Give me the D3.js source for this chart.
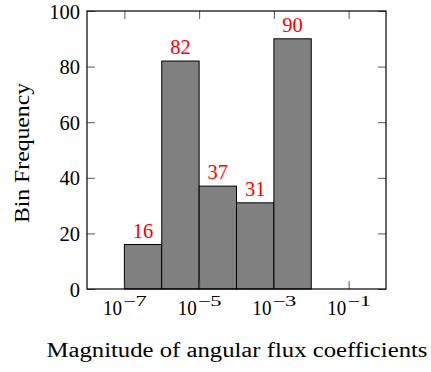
<!DOCTYPE html>
<html>
<head>
<meta charset="utf-8">
<script src="https://cdn.jsdelivr.net/npm/d3@7"></script>
<style>
  html, body { margin: 0; padding: 0; background: #fff; }
  svg { display: block; }
  text { font-family: "Liberation Serif", "Times New Roman", serif; }
</style>
</head>
<body>
<svg id="chart" width="431" height="372"></svg>
<script>
// Histogram bins (decade edges) and their counts
const binEdges = [1e-7, 1e-6, 1e-5, 1e-4, 1e-3, 1e-2];
const counts = [16, 82, 37, 31, 90];
const xTickValues = [1e-7, 1e-5, 1e-3, 1e-1];
const yTickValues = [0, 20, 40, 60, 80, 100];
const xTitle = "Magnitude of angular flux coefficients";
const yTitle = "Bin Frequency";

const bins = counts.map((c, i) => ({ x0: binEdges[i], x1: binEdges[i + 1], count: c }));

const svg = d3.select("#chart");
const plotLeft = 87, plotRight = 386, plotTop = 11, plotBottom = 289;
const fontSize = 20.5;

const x = d3.scaleLog().domain([1e-8, 1]).range([plotLeft, plotRight]);
const y = d3.scaleLinear().domain([0, 100]).range([plotBottom, plotTop]);

// bars
svg.append("g").selectAll("rect")
  .data(bins)
  .join("rect")
  .attr("x", d => x(d.x0))
  .attr("y", d => y(d.count))
  .attr("width", d => x(d.x1) - x(d.x0))
  .attr("height", d => y(0) - y(d.count))
  .attr("fill", "#808080")
  .attr("stroke", "#000")
  .attr("stroke-width", 1);

// value labels above bars
svg.append("g").selectAll("text")
  .data(bins)
  .join("text")
  .attr("x", d => (x(d.x0) + x(d.x1)) / 2)
  .attr("y", d => y(d.count) - 7)
  .attr("text-anchor", "middle")
  .attr("font-size", fontSize)
  .attr("fill", "#ff0000")
  .text(d => d.count);

// inward ticks on all four sides
const tickLen = 8;
function styleTicks(g) {
  g.select(".domain").remove();
  g.selectAll(".tick line").attr("stroke", "#444").attr("stroke-width", 0.9);
  g.selectAll(".tick text").remove();
}
svg.append("g").attr("transform", `translate(0,${plotBottom})`)
  .call(d3.axisBottom(x).tickValues(xTickValues).tickSize(-tickLen).tickFormat(""))
  .call(styleTicks);
svg.append("g").attr("transform", `translate(0,${plotTop})`)
  .call(d3.axisTop(x).tickValues(xTickValues).tickSize(-tickLen).tickFormat(""))
  .call(styleTicks);
svg.append("g").attr("transform", `translate(${plotLeft},0)`)
  .call(d3.axisLeft(y).tickValues(yTickValues).tickSize(-tickLen).tickFormat(""))
  .call(styleTicks);
svg.append("g").attr("transform", `translate(${plotRight},0)`)
  .call(d3.axisRight(y).tickValues(yTickValues).tickSize(-tickLen).tickFormat(""))
  .call(styleTicks);

// frame
svg.append("rect")
  .attr("x", plotLeft).attr("y", plotTop)
  .attr("width", plotRight - plotLeft).attr("height", plotBottom - plotTop)
  .attr("fill", "none").attr("stroke", "#000").attr("stroke-width", 1.2);

// y tick labels
svg.append("g").selectAll("text")
  .data(yTickValues)
  .join("text")
  .attr("x", plotLeft - 7)
  .attr("y", d => y(d) + 7.5)
  .attr("text-anchor", "end")
  .attr("font-size", fontSize)
  .text(d => d);

// x tick labels as powers of ten: base and raised exponent
const xl = svg.append("g").selectAll("g")
  .data(xTickValues)
  .join("g")
  .attr("transform", d => `translate(${x(d)},${plotBottom + 26})`);
xl.append("text")
  .attr("x", -21.5)
  .attr("font-size", fontSize)
  .attr("textLength", 19)
  .attr("lengthAdjust", "spacingAndGlyphs")
  .text("10");
xl.append("text")
  .attr("x", -1.5)
  .attr("y", -9)
  .attr("font-size", 14.5)
  .attr("textLength", 24)
  .attr("lengthAdjust", "spacingAndGlyphs")
  .text(d => "\u2212" + Math.round(-Math.log10(d)));

// axis titles
svg.append("text")
  .attr("x", (plotLeft + plotRight) / 2 + 0.5)
  .attr("y", 357)
  .attr("text-anchor", "middle")
  .attr("font-size", fontSize)
  .attr("textLength", 381)
  .attr("lengthAdjust", "spacingAndGlyphs")
  .text(xTitle);

svg.append("text")
  .attr("transform", `translate(28.5,153) rotate(-90)`)
  .attr("text-anchor", "middle")
  .attr("font-size", fontSize)
  .attr("textLength", 140)
  .attr("lengthAdjust", "spacingAndGlyphs")
  .text(yTitle);
</script>
</body>
</html>
